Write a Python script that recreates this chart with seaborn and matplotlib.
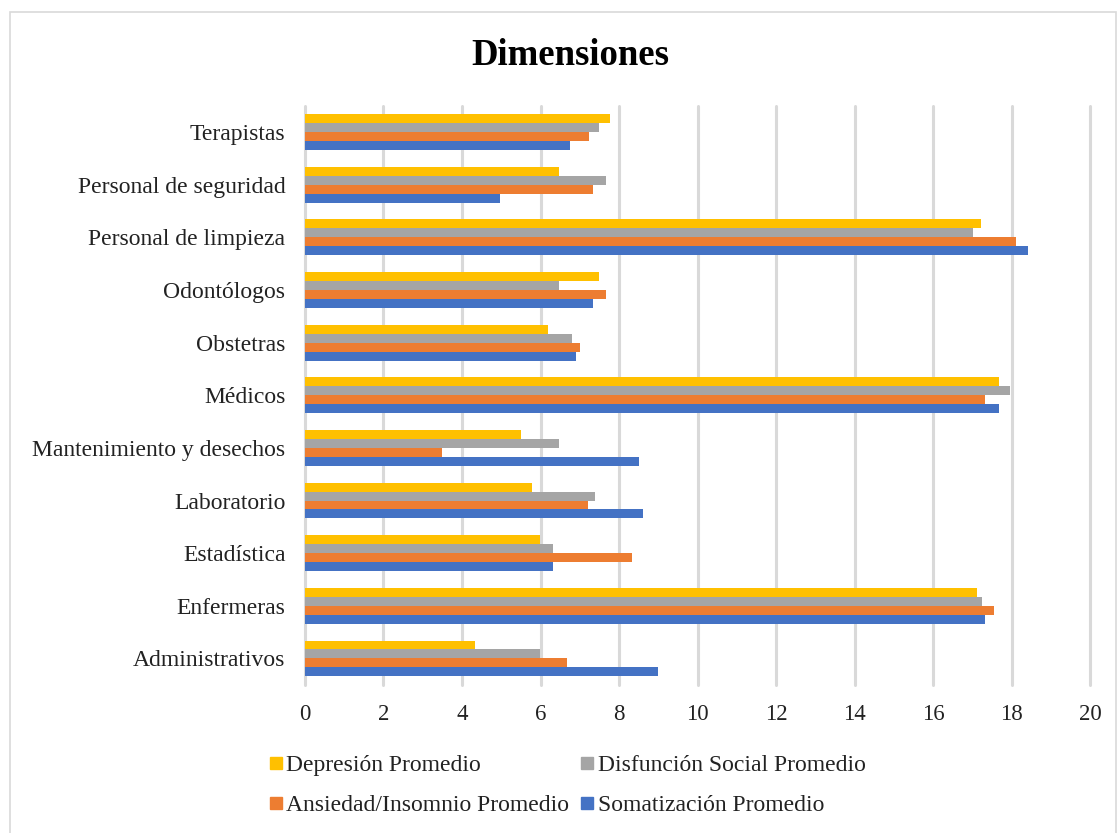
import matplotlib
matplotlib.use("Agg")
import matplotlib.pyplot as plt
import seaborn as sns
import pandas as pd
from matplotlib.patches import Rectangle
from matplotlib.lines import Line2D

# Occupational groups, listed top to bottom
categories = [
    "Terapistas", "Personal de seguridad", "Personal de limpieza", "Odontólogos",
    "Obstetras", "Médicos", "Mantenimiento y desechos", "Laboratorio",
    "Estadística", "Enfermeras", "Administrativos",
]
series_names = [
    "Depresión Promedio", "Disfunción Social Promedio",
    "Ansiedad/Insomnio Promedio", "Somatización Promedio",
]
depresion = [7.76, 6.48, 17.22, 7.49, 6.19, 17.69, 5.50, 5.79, 5.99, 17.11, 4.33]
disfuncion = [7.49, 7.66, 17.01, 6.48, 6.81, 17.95, 6.48, 7.39, 6.31, 17.24, 5.99]
ansiedad = [7.23, 7.33, 18.10, 7.66, 7.00, 17.33, 3.48, 7.20, 8.34, 17.56, 6.67]
somatizacion = [6.75, 4.98, 18.42, 7.33, 6.90, 17.69, 8.50, 8.60, 6.31, 17.31, 8.99]
x_ticks = [0, 2, 4, 6, 8, 10, 12, 14, 16, 18, 20]
colors = ["#FFC000", "#A5A5A5", "#ED7D31", "#4472C4"]

rows = []
for name, vals in zip(series_names, [depresion, disfuncion, ansiedad, somatizacion]):
    for cat, v in zip(categories, vals):
        rows.append({"Grupo": cat, "Serie": name, "Valor": v})
df = pd.DataFrame(rows)

sns.set_theme(style="white")
plt.rcParams["font.family"] = ["Liberation Serif", "DejaVu Serif"]

fig = plt.figure(figsize=(11.17, 8.33), dpi=100)
ax = fig.add_axes([0.273, 0.178, 0.703, 0.695])

sns.barplot(
    data=df, y="Grupo", x="Valor", hue="Serie", order=categories,
    hue_order=series_names, palette=colors, orient="h", width=0.68,
    saturation=1, ax=ax, legend=False, edgecolor="none",
)

ax.set_xlim(0, 20)
ax.set_xticks(x_ticks)
ax.set_xticklabels([str(t) for t in x_ticks], fontsize=16.5, color="#222222")
ax.tick_params(axis="y", labelsize=17, labelcolor="#222222", length=0, pad=14)
ax.tick_params(axis="x", length=0, pad=14)
ax.set_xlabel("")
ax.set_ylabel("")
ax.xaxis.grid(True, color="#D9D9D9", linewidth=2.2)
ax.yaxis.grid(False)
ax.set_axisbelow(True)
for s in ax.spines.values():
    s.set_visible(False)
for gl in ax.get_xgridlines():
    gl.set_clip_on(False)

fig.text(0.511, 0.933, "Dimensiones", ha="center", va="center",
         fontsize=26.5, fontweight="bold", color="black")

# Legend entries arranged so the two rows read left to right
order = [0, 2, 1, 3]
handles = [Line2D([0], [0], marker="s", linestyle="none", markersize=9,
                  markerfacecolor=colors[i], markeredgecolor=colors[i]) for i in order]
labels = [series_names[i] for i in order]
fig.legend(handles, labels, loc="center", bbox_to_anchor=(0.506, 0.057),
           ncol=2, frameon=False, fontsize=17, handletextpad=0.0,
           columnspacing=0.3, labelspacing=0.8, handlelength=0.9,
           labelcolor="#222222")

fig.patches.append(Rectangle((0.009, -0.01), 0.99, 0.996, transform=fig.transFigure,
                             fill=False, edgecolor="#D9D9D9", linewidth=1.2))

fig.savefig("out.png", dpi=100, facecolor="white")
